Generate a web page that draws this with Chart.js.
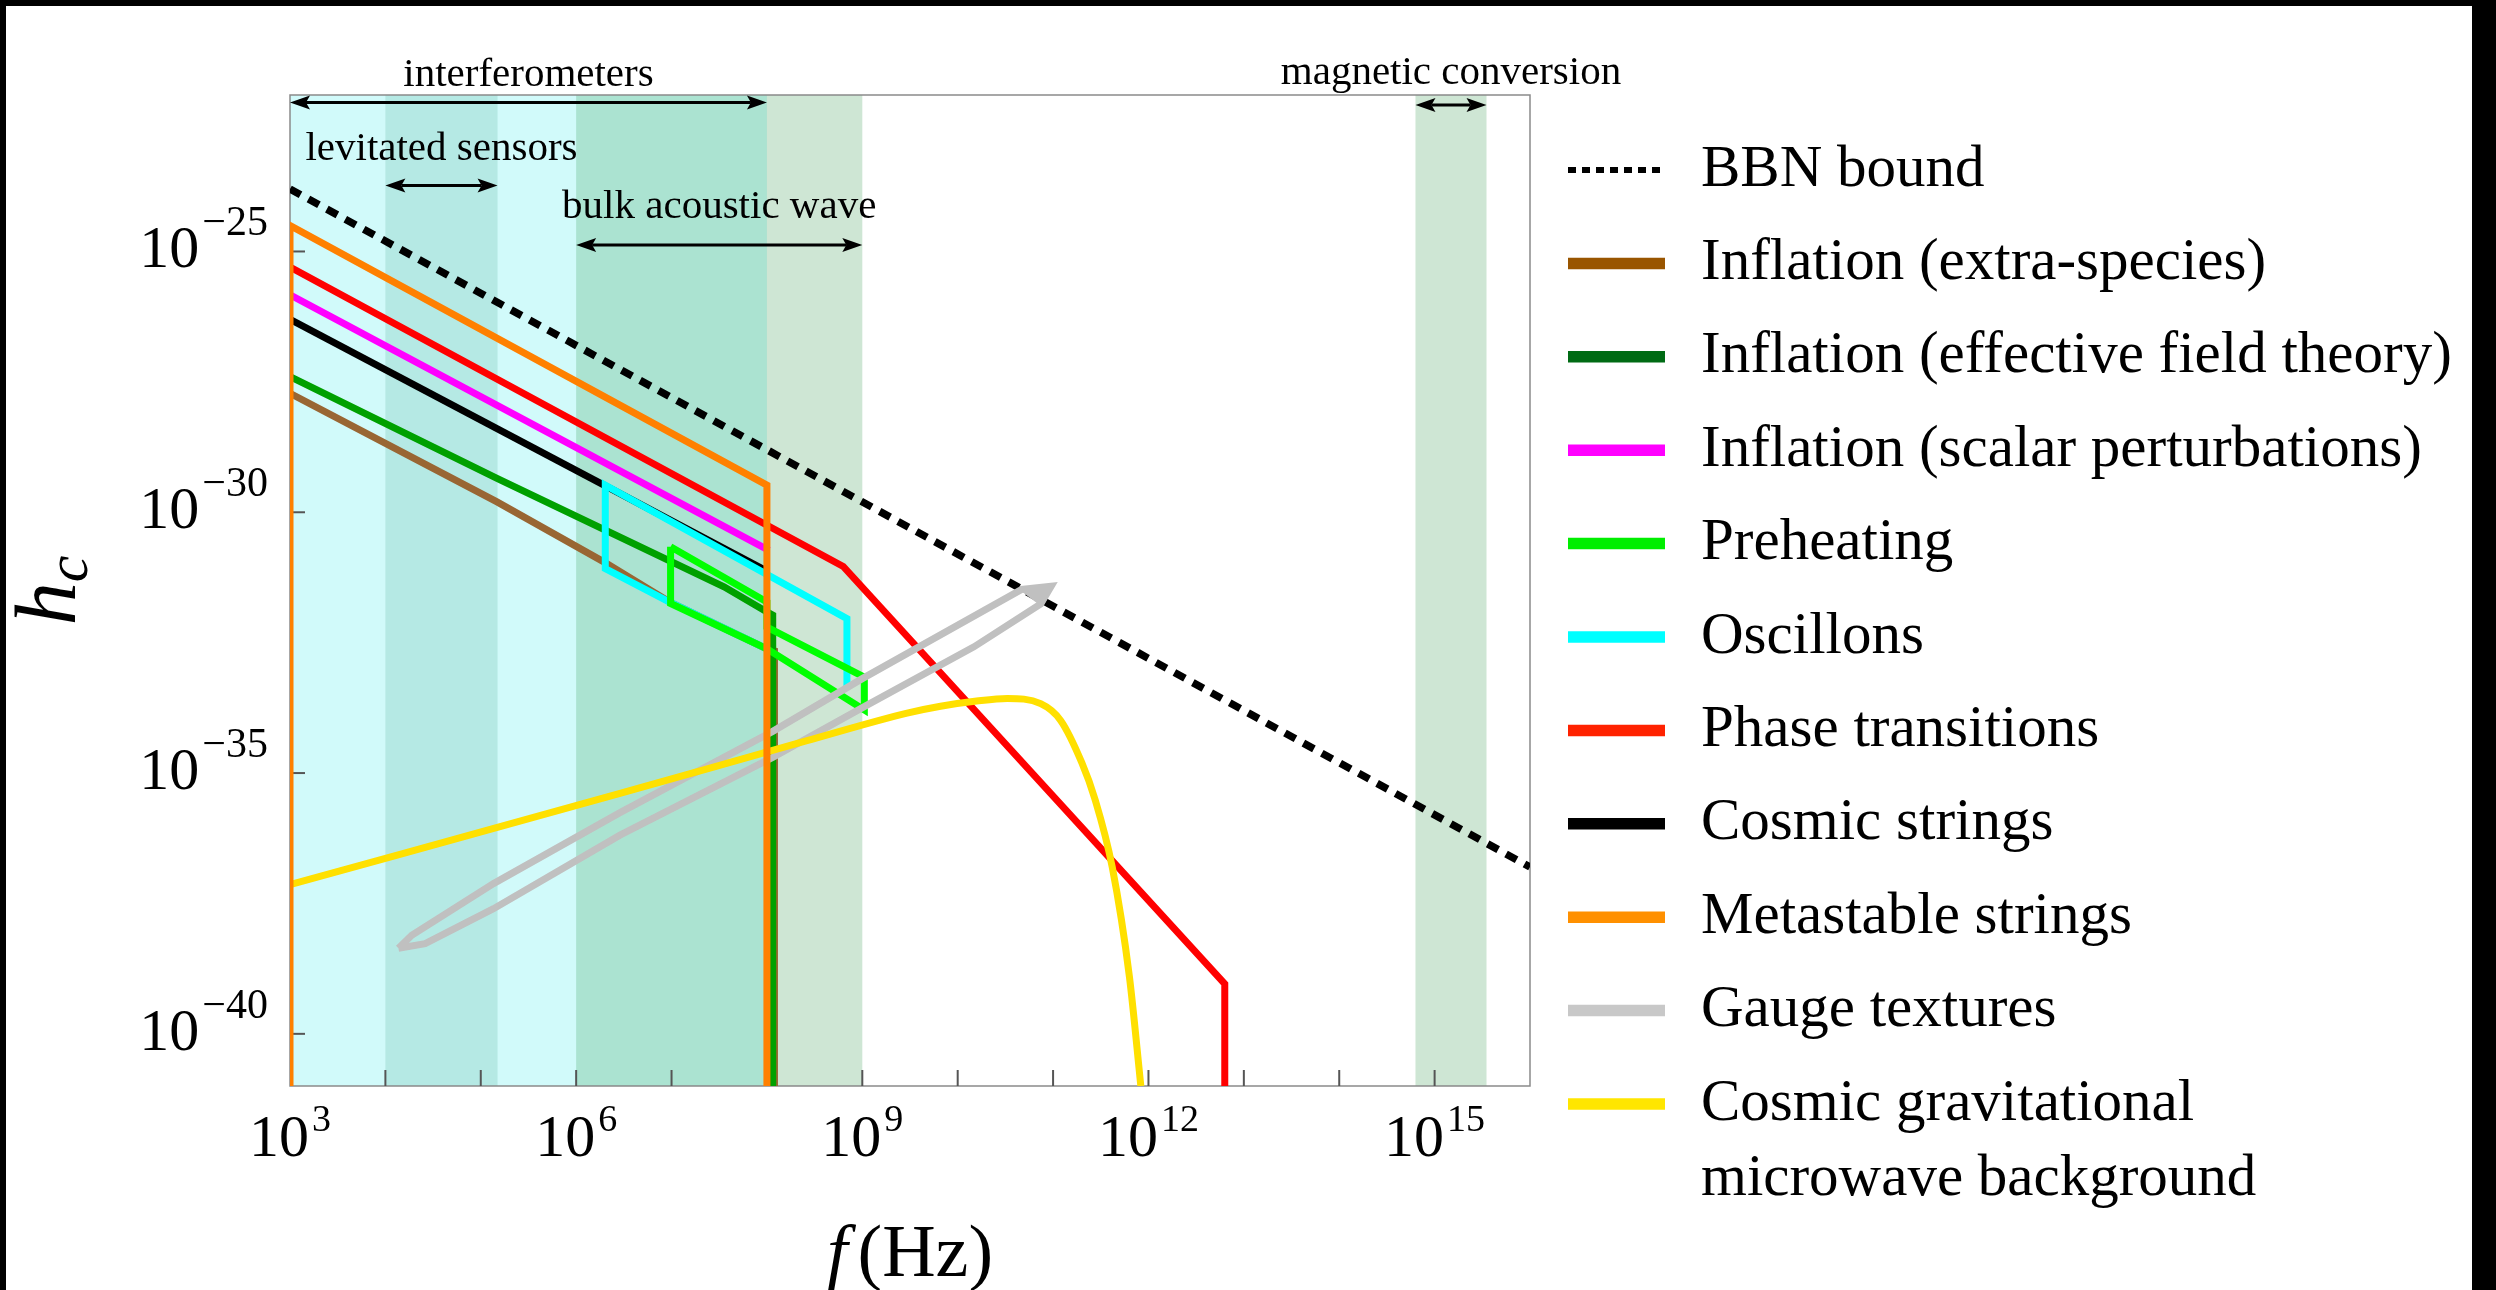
<!DOCTYPE html>
<html>
<head>
<meta charset="utf-8">
<title>Gravitational wave sources and detectors</title>
<script src="https://cdn.jsdelivr.net/npm/chart.js@4.4.1/dist/chart.umd.min.js"></script>
<style>
  html, body { margin: 0; padding: 0; background: #000; overflow: hidden; }
  #wrap { position: absolute; left: 6px; top: 6px; width: 2466px; height: 1284px; background: #fff; }
</style>
</head>
<body>
<div id="wrap"><canvas id="gwChart" width="2466" height="1284"></canvas></div>
<script>
// Axis ranges
const xMin = 1e3, xMax = 1e16;
const yMin = 1e-41, yMax = 1e-22;

// Tick values
const xTickLabels = [1e3, 1e6, 1e9, 1e12, 1e15];
const xTickMarks = [1e4, 1e5, 1e6, 1e7, 1e8, 1e9, 1e10, 1e11, 1e12, 1e13, 1e14, 1e15];
const yTickLabels = [1e-25, 1e-30, 1e-35, 1e-40];

// Detector bands (Hz)
const bandNames = ['interferometers', 'levitated sensors', 'bulk acoustic wave', 'magnetic conversion'];
const bandLow = [1e3, 1e4, 1e6, 6.3e14];
const bandHigh = [1e8, 1.5e5, 1e9, 3.5e15];

// Sources: frequency (Hz) and characteristic strain
const bbnF = [1e3, 1e16];
const bbnH = [1.58e-24, 1.58e-37];

const extraF = [1e3, 1.48e5, 1.95e6, 9.77e6, 1e8, 1.2e8, 1.2e8];
const extraH = [1.91e-28, 1.58e-30, 1.12e-31, 1.86e-32, 2.4e-33, 2.19e-33, 1e-41];

const eftF = [1e3, 1.48e5, 3.55e7, 9.33e7, 1.15e8, 1.15e8];
const eftH = [3.98e-28, 4.47e-30, 3.72e-32, 1.32e-32, 1.07e-32, 1e-41];

const scalarF = [1e3, 1.05e8];
const scalarH = [1.48e-26, 1.86e-31];

const preheatF = [9.77e6, 1e8, 1e8, 1.05e9, 1.05e9, 1e8, 9.77e6, 9.77e6];
const preheatH = [2.19e-31, 1.91e-32, 6.31e-33, 6.92e-34, 1.62e-34, 2.4e-33, 1.78e-32, 2.19e-31];

const oscF = [6.9e8, 6.9e8, 2.02e6, 2.02e6, 9.77e6, 1e8];
const oscH = [4.47e-34, 9.12e-33, 3.31e-30, 8.32e-32, 1.86e-32, 2.4e-33];

const phaseF = [1e3, 6.31e8, 6.31e12, 6.31e12];
const phaseH = [5.01e-26, 9.12e-32, 9.12e-40, 1e-41];

const stringsF = [1e3, 1e8];
const stringsH = [5.01e-27, 7.41e-32];

const metaF = [1e3, 1e3, 1e8, 1e8];
const metaH = [1e-41, 3.16e-25, 3.31e-30, 1e-41];

const gaugeF = [1.37e4, 1.89e4, 1.36e5, 2.88e6, 1.15e8, 1.02e9, 4.68e10, 9.55e10, 7.41e10,
                1.48e10, 1.12e9, 1.15e8, 2.88e6, 1.36e5, 2.61e4, 1.37e4];
const gaugeH = [4.37e-39, 7.76e-39, 7.59e-38, 1.74e-36, 6.31e-35, 6.61e-34, 3.31e-32, 3.8e-32, 1.74e-32,
                2.63e-33, 2.0e-34, 2.0e-35, 6.46e-37, 2.51e-38, 5.37e-39, 4.37e-39];
const gaugeHeadF = [4.68e10, 9.55e10, 7.41e10, 4.68e10];
const gaugeHeadH = [3.31e-32, 3.8e-32, 1.74e-32, 3.31e-32];

const cgmbF = [1e3, 2.88e6, 2.63e8, 2.95e9, 6.61e9, 1.58e10, 3.31e10, 7.41e10, 1.2e11,
               2.0e11, 2.75e11, 4.17e11, 6.31e11, 8.32e11];
const cgmbH = [7.24e-38, 4.07e-36, 4.17e-35, 1.41e-34, 1.91e-34, 2.4e-34, 2.69e-34, 2.14e-34, 1.02e-34,
               1.58e-35, 3.16e-36, 1.58e-37, 1.26e-39, 1e-41];

// Legend
const legendLabels = [['BBN bound'], ['Inflation (extra-species)'], ['Inflation (effective field theory)'],
  ['Inflation (scalar perturbations)'], ['Preheating'], ['Oscillons'], ['Phase transitions'],
  ['Cosmic strings'], ['Metastable strings'], ['Gauge textures'],
  ['Cosmic gravitational', 'microwave background']];
const legendColors = ['#000000', '#995500', '#006b14', '#ff00ff', '#00ee00', '#00ffff', '#ff2200',
  '#000000', '#ff9000', '#c8c8c8', '#ffe600'];

const bandColors = ['rgba(0, 225, 225, 0.18)', 'rgba(40, 150, 120, 0.17)',
  'rgba(30, 140, 60, 0.22)', 'rgba(30, 140, 60, 0.22)'];

const SERIF = '"Liberation Serif", "Times New Roman", serif';

function points(fs, hs) {
  return fs.map((f, i) => ({ x: f, y: hs[i] }));
}

function lineSet(label, fs, hs, color, order, extra) {
  return Object.assign({
    label: label,
    data: points(fs, hs),
    borderColor: color,
    backgroundColor: color,
    borderWidth: 7,
    pointRadius: 0,
    tension: 0,
    fill: false,
    order: order,
    borderJoinStyle: 'miter',
    borderCapStyle: 'butt'
  }, extra || {});
}

// "10" with a superscript exponent
function drawPower(ctx, value, x, y, align, supSize, raise) {
  const exp = Math.round(Math.log10(value));
  const sup = exp < 0 ? '\u2212' + (-exp) : String(exp);
  ctx.font = '60px ' + SERIF;
  const wb = ctx.measureText('10').width;
  ctx.font = supSize + 'px ' + SERIF;
  const ws = ctx.measureText(sup).width;
  const total = wb + 3 + ws;
  const x0 = align === 'right' ? x - total : x - total / 2;
  ctx.textAlign = 'left';
  ctx.textBaseline = 'alphabetic';
  ctx.font = '60px ' + SERIF;
  ctx.fillText('10', x0, y);
  ctx.font = supSize + 'px ' + SERIF;
  ctx.fillText(sup, x0 + wb + 3, y - raise);
}

function drawArrow(ctx, x1, x2, y) {
  const head = 20, half = 7;
  ctx.lineWidth = 3;
  ctx.beginPath();
  ctx.moveTo(x1 + head - 4, y);
  ctx.lineTo(x2 - head + 4, y);
  ctx.stroke();
  ctx.beginPath();
  ctx.moveTo(x1, y);
  ctx.lineTo(x1 + head, y - half);
  ctx.lineTo(x1 + head - 4, y);
  ctx.lineTo(x1 + head, y + half);
  ctx.closePath();
  ctx.fill();
  ctx.beginPath();
  ctx.moveTo(x2, y);
  ctx.lineTo(x2 - head, y - half);
  ctx.lineTo(x2 - head + 4, y);
  ctx.lineTo(x2 - head, y + half);
  ctx.closePath();
  ctx.fill();
}

// where the arrows and their labels sit, relative to the top of the plot
const arrowOffsets = [7.6, 90.6, 150, 10];
const labelOffsets = [-9, 65, 123, -11];

const decorPlugin = {
  id: 'decor',
  beforeDatasetsDraw(chart) {
    const { ctx, chartArea: a, scales: { x, y } } = chart;
    ctx.save();
    // detector bands
    bandLow.forEach((lo, i) => {
      const x1 = x.getPixelForValue(lo);
      const x2 = x.getPixelForValue(bandHigh[i]);
      ctx.fillStyle = bandColors[i];
      ctx.fillRect(x1, a.top, x2 - x1, a.bottom - a.top);
    });
    // frame
    ctx.strokeStyle = '#8a8a8a';
    ctx.lineWidth = 1.5;
    ctx.strokeRect(a.left, a.top, a.right - a.left, a.bottom - a.top);
    // ticks
    ctx.strokeStyle = '#555';
    ctx.lineWidth = 2;
    xTickMarks.forEach(v => {
      const px = x.getPixelForValue(v);
      ctx.beginPath();
      ctx.moveTo(px, a.bottom);
      ctx.lineTo(px, a.bottom - 16);
      ctx.stroke();
    });
    yTickLabels.forEach(v => {
      const py = y.getPixelForValue(v);
      ctx.beginPath();
      ctx.moveTo(a.left, py);
      ctx.lineTo(a.left + 15, py);
      ctx.stroke();
    });
    ctx.restore();
  },
  afterDraw(chart) {
    const { ctx, chartArea: a, scales: { x, y } } = chart;
    ctx.save();
    ctx.fillStyle = '#000';
    ctx.strokeStyle = '#000';

    // tick labels
    xTickLabels.forEach(v => drawPower(ctx, v, x.getPixelForValue(v), a.bottom + 70, 'center', 38, 25));
    yTickLabels.forEach(v => drawPower(ctx, v, a.left - 22, y.getPixelForValue(v) + 16, 'right', 42, 32));

    // x axis title: f(Hz)
    ctx.textBaseline = 'alphabetic';
    ctx.textAlign = 'left';
    ctx.font = 'italic 74px ' + SERIF;
    const wf = ctx.measureText('f').width;
    ctx.font = '74px ' + SERIF;
    const wr = ctx.measureText('(Hz)').width;
    const cx = (a.left + a.right) / 2;
    let x0 = cx - (wf + 10 + wr) / 2;
    ctx.font = 'italic 74px ' + SERIF;
    ctx.fillText('f', x0, a.bottom + 190);
    ctx.font = '74px ' + SERIF;
    ctx.fillText('(Hz)', x0 + wf + 10, a.bottom + 190);

    // y axis title: h_c
    ctx.save();
    ctx.translate(a.left - 215, (a.top + a.bottom) / 2);
    ctx.rotate(-Math.PI / 2);
    ctx.font = 'italic 86px ' + SERIF;
    const wh = ctx.measureText('h').width;
    ctx.font = 'italic 60px ' + SERIF;
    const wc = ctx.measureText('c').width;
    x0 = -(wh + wc) / 2;
    ctx.font = 'italic 86px ' + SERIF;
    ctx.fillText('h', x0, 0);
    ctx.font = 'italic 60px ' + SERIF;
    ctx.fillText('c', x0 + wh, 12);
    ctx.restore();

    // detector annotations
    ctx.font = '41px ' + SERIF;
    ctx.textAlign = 'center';
    bandNames.forEach((name, i) => {
      const x1 = x.getPixelForValue(bandLow[i]);
      const x2 = x.getPixelForValue(bandHigh[i]);
      drawArrow(ctx, x1, x2, a.top + arrowOffsets[i]);
      ctx.fillText(name, (x1 + x2) / 2, a.top + labelOffsets[i]);
    });

    // legend
    const lx1 = a.right + 38, lx2 = a.right + 135, tx = a.right + 171;
    ctx.textAlign = 'left';
    ctx.textBaseline = 'middle';
    ctx.font = '59px ' + SERIF;
    legendLabels.forEach((lines, i) => {
      const ly = a.top + 75 + i * 93.4;
      ctx.beginPath();
      ctx.strokeStyle = legendColors[i];
      if (i === 0) {
        ctx.lineWidth = 6;
        ctx.setLineDash([8, 6]);
      } else {
        ctx.lineWidth = 11.5;
        ctx.setLineDash([]);
      }
      ctx.moveTo(lx1, ly);
      ctx.lineTo(lx2, ly);
      ctx.stroke();
      ctx.setLineDash([]);
      lines.forEach((t, k) => ctx.fillText(t, tx, ly + k * 75));
    });
    ctx.restore();
  }
};

new Chart(document.getElementById('gwChart'), {
  type: 'line',
  data: {
    datasets: [
      lineSet('Metastable strings', metaF, metaH, '#ff8000', 1),
      lineSet('Cosmic gravitational microwave background', cgmbF, cgmbH, '#ffe000', 2, { cubicInterpolationMode: 'monotone' }),
      lineSet('Gauge textures head', gaugeHeadF, gaugeHeadH, '#c0c0c0', 3, { fill: 'shape', borderWidth: 3 }),
      lineSet('Gauge textures', gaugeF, gaugeH, '#c0c0c0', 4),
      lineSet('Phase transitions', phaseF, phaseH, '#ff0000', 5),
      lineSet('Preheating', preheatF, preheatH, '#00ff00', 6),
      lineSet('Oscillons', oscF, oscH, '#00ffff', 7),
      lineSet('Cosmic strings', stringsF, stringsH, '#000000', 8),
      lineSet('Inflation (scalar perturbations)', scalarF, scalarH, '#ff00ff', 9),
      lineSet('Inflation (effective field theory)', eftF, eftH, '#00a000', 10),
      lineSet('Inflation (extra-species)', extraF, extraH, '#996633', 11),
      lineSet('BBN bound', bbnF, bbnH, '#000000', 12, { borderDash: [12, 9], borderWidth: 7.5 })
    ]
  },
  options: {
    responsive: false,
    animation: false,
    events: [],
    layout: { padding: { left: 284, top: 89, right: 942, bottom: 204 } },
    plugins: {
      legend: { display: false },
      title: { display: false },
      tooltip: { enabled: false }
    },
    scales: {
      x: { type: 'logarithmic', min: xMin, max: xMax, display: false },
      y: { type: 'logarithmic', min: yMin, max: yMax, display: false }
    }
  },
  plugins: [decorPlugin]
});
</script>
</body>
</html>
